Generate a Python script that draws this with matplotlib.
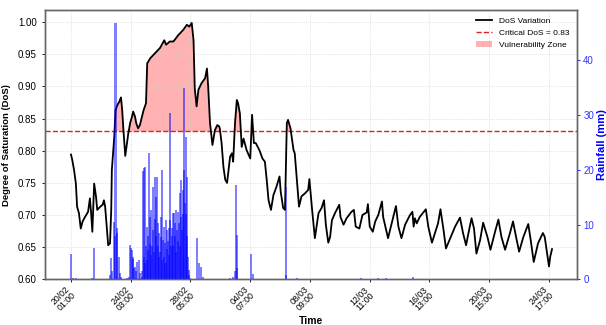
import numpy as np
import matplotlib
matplotlib.use("Agg")
import matplotlib.pyplot as plt
from matplotlib.patches import Patch
from matplotlib.lines import Line2D

plt.rcParams['font.family'] = ['Liberation Sans', 'DejaVu Sans']

# hours since 20/02 01:00
dos_hours = [0, 2, 5, 8, 10, 13, 16, 19, 23, 28, 31, 33, 35, 38, 41, 43, 48, 52, 54, 56,
             59, 61, 64, 66, 67, 69, 71, 73, 76, 79, 82, 84, 86, 89, 91, 94, 97, 100, 102, 105,
             107, 110, 113, 119, 123, 125, 130, 138, 146, 150, 153, 156, 162, 168, 176, 184, 190, 194, 198, 201,
             203, 206, 209, 214, 220, 223, 225, 228, 232, 236, 240, 243, 244, 247, 250, 253, 256, 261, 264, 266,
             269, 272, 274, 277, 280, 283, 288, 294, 297, 300, 303, 309, 314, 318, 321, 324, 328, 332, 337, 342,
             344, 348, 351, 354, 356, 360, 365, 367, 371, 374, 378, 384, 389, 391, 395, 400, 406, 411, 415, 418,
             422, 425, 428, 433, 440, 442, 447, 452, 460, 464, 467, 473, 478, 485, 487, 490, 495, 499, 504, 510,
             512, 518, 520, 526, 533, 537, 542, 548, 556, 560, 562, 564, 567, 572, 582, 586, 592, 597, 602, 606,
             611, 615, 622, 630, 638, 643, 648, 653, 657, 661, 665, 671, 676, 683, 688, 695, 701, 706, 712, 720,
             725, 730, 735, 742, 750, 754, 759, 766, 774, 777, 783, 784, 786, 789]
dos_values = [0.794, 0.786, 0.770, 0.749, 0.713, 0.703, 0.679, 0.690, 0.697, 0.705, 0.726, 0.703, 0.674, 0.749, 0.729, 0.708, 0.713, 0.716, 0.723, 0.713,
              0.677, 0.653, 0.656, 0.708, 0.770, 0.796, 0.822, 0.863, 0.871, 0.876, 0.883, 0.863, 0.832, 0.792, 0.806, 0.827, 0.843, 0.853, 0.861, 0.853,
              0.843, 0.835, 0.840, 0.863, 0.874, 0.936, 0.944, 0.952, 0.960, 0.967, 0.972, 0.965, 0.970, 0.970, 0.980, 0.988, 0.996, 0.993, 0.999, 0.972,
              0.897, 0.869, 0.895, 0.905, 0.913, 0.928, 0.900, 0.843, 0.809, 0.832, 0.840, 0.838, 0.835, 0.812, 0.775, 0.755, 0.750, 0.791, 0.796, 0.783,
              0.843, 0.879, 0.874, 0.858, 0.806, 0.819, 0.801, 0.788, 0.856, 0.812, 0.812, 0.801, 0.788, 0.783, 0.755, 0.723, 0.708, 0.731, 0.744, 0.760,
              0.736, 0.711, 0.708, 0.843, 0.848, 0.835, 0.801, 0.796, 0.749, 0.713, 0.729, 0.734, 0.739, 0.756, 0.713, 0.664, 0.703, 0.711, 0.723, 0.685,
              0.657, 0.666, 0.692, 0.703, 0.716, 0.697, 0.685, 0.695, 0.705, 0.708, 0.682, 0.679, 0.700, 0.704, 0.717, 0.682, 0.674, 0.690, 0.700, 0.721,
              0.697, 0.672, 0.664, 0.687, 0.714, 0.682, 0.664, 0.685, 0.700, 0.705, 0.682, 0.695, 0.687, 0.697, 0.709, 0.682, 0.657, 0.672, 0.687, 0.709,
              0.677, 0.648, 0.664, 0.682, 0.696, 0.672, 0.653, 0.677, 0.695, 0.679, 0.640, 0.661, 0.688, 0.666, 0.646, 0.672, 0.693, 0.666, 0.646, 0.672,
              0.690, 0.666, 0.643, 0.666, 0.686, 0.661, 0.627, 0.656, 0.672, 0.666, 0.627, 0.620, 0.635, 0.647]

rain_hours = [0, 4, 9, 34, 37, 64, 65, 68, 70, 72, 73, 75, 76, 78, 80, 82, 92, 95,
              97, 98, 100, 101, 102, 103, 105, 107, 109, 111, 113,
              116, 117, 118, 119, 120, 121, 122, 123, 124, 125, 126, 127, 128, 129, 130, 131, 132, 133, 134, 135,
              136, 137, 138, 139, 140, 141, 142, 143, 144, 145, 146, 147, 148, 149, 150, 151, 152, 153, 154, 155,
              156, 157, 158, 159, 160, 161, 162, 163, 164, 165, 166, 167, 168, 169, 170, 171, 172, 173, 174, 175,
              176, 177, 178, 179, 180, 181, 182, 183, 184, 185, 186, 187, 188, 189, 190, 191, 192, 193, 194, 195,
              207, 210, 214, 217, 261, 266, 269, 271, 272, 273, 296, 298, 352, 353, 371, 476, 504, 517, 561]
rain_mm = [4.6, 0.2, 0.2, 0.2, 5.8, 0.8, 3.9, 1.5, 10.5, 8.0, 46.9, 8.5, 9.3, 4.1, 1.1, 0.5, 0.3, 0.4,
           6.3, 5.8, 5.4, 4.0, 3.8, 2.0, 2.3, 1.5, 3.2, 3.5, 1.1,
           0.5, 1.5, 19.8, 20.3, 4.0, 3.0, 20.6, 6.0, 9.6, 3.5, 5.4, 8.0, 23.0, 6.5, 11.4, 12.7, 4.5, 6.0, 9.0, 16.9,
           5.0, 11.0, 18.7, 8.0, 15.1, 18.7, 6.0, 10.2, 4.0, 8.4, 5.0, 7.8, 11.4, 3.5, 20.0, 7.2, 4.0, 9.6, 6.6, 3.0,
           10.8, 5.5, 9.0, 7.0, 9.3, 4.5, 10.8, 30.3, 6.0, 9.3, 8.0, 12.1, 6.0, 12.1, 8.0, 10.2, 5.0, 12.7, 9.0, 12.3,
           7.0, 10.2, 6.0, 15.7, 11.4, 18.1, 9.0, 16.3, 12.0, 35.0, 20.0, 14.0, 26.0, 12.0, 18.7, 8.0, 4.0, 1.7, 0.8, 0.3,
           7.5, 2.9, 2.3, 0.5, 0.3, 0.5, 1.5, 17.2, 8.1, 2.0, 4.7, 1.0, 16.9, 0.8, 0.3, 0.3, 0.3, 0.3, 0.4]

tick_hours = [0, 98, 196, 294, 392, 490, 588, 686, 784]
tick_labels = ['20/02\n01:00', '24/02\n03:00', '28/02\n05:00', '04/03\n07:00', '08/03\n09:00',
               '12/03\n11:00', '16/03\n13:00', '20/03\n15:00', '24/03\n17:00']
critical_dos = 0.83

x = np.array(dos_hours)
y = np.array(dos_values)

fig = plt.figure(figsize=(6.06, 3.25), dpi=100)
ax = fig.add_axes([0.0743, 0.1406, 0.8779, 0.8286])
ax2 = ax.twinx()

ax.plot(x, y, color='black', lw=1.3, zorder=3)
ax.axhline(critical_dos, color='#e02020', ls='--', lw=1.0, zorder=2)
ax.fill_between(x, y, critical_dos, where=y > critical_dos, interpolate=True,
                color='red', alpha=0.3, lw=0, zorder=1)

ax2.bar(rain_hours, rain_mm, width=3.3, color='blue', alpha=0.5, lw=0)

ax.set_xlim(-42.6, 830)
ax.set_ylim(0.6, 1.019)
ax2.set_ylim(0, 49.2)
ax.set_yticks(np.arange(0.60, 1.001, 0.05))
ax.set_xticks(tick_hours)
ax.set_xticklabels(tick_labels, rotation=45, ha='right', va='center',
                   rotation_mode='anchor', fontsize=6.3, linespacing=0.9)
ax.tick_params(axis='y', labelsize=7, length=2.5, width=0.6)
ax.tick_params(axis='x', length=2.5, width=0.6, pad=6)
ax.grid(True, color='#cccccc', ls=':', lw=0.6, alpha=0.8)

ax2.set_yticks([0, 10, 20, 30, 40])
ax2.tick_params(axis='y', colors='blue', labelsize=7, length=2.5, width=0.6, pad=2)
for lab in ax2.get_yticklabels():
    lab.set_alpha(0.8)

ax.set_ylabel('Degree of Saturation (DoS)', fontsize=6.8, fontweight='bold', labelpad=5)
ax.set_xlabel('Time', fontsize=7.5, fontweight='bold', labelpad=2)
ax2.set_ylabel('Rainfall (mm)', fontsize=8, fontweight='bold', color='blue', labelpad=2)

for a in (ax, ax2):
    for s in a.spines.values():
        s.set_color('#666666')
        s.set_linewidth(1.0)

handles = [Line2D([], [], color='black', lw=1.3),
           Line2D([], [], color='#e02020', ls='--', lw=1.0),
           Patch(facecolor='red', alpha=0.3)]
ax2.legend(handles, ['DoS Variation', f'Critical DoS = {critical_dos}', 'Vulnerability Zone'],
           loc='upper right', frameon=False, fontsize=6, handlelength=2.0,
           borderaxespad=0.5, labelspacing=0.45)

fig.savefig('out.png', dpi=100)
